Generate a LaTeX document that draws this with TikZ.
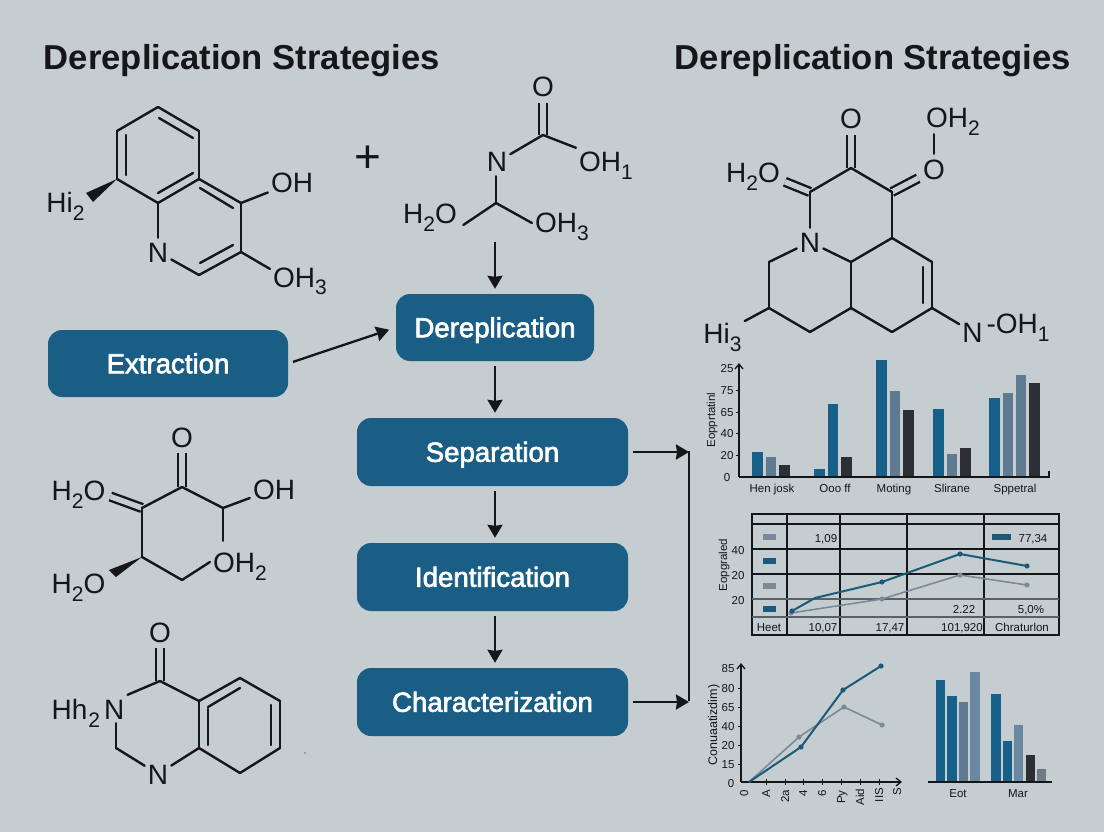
\documentclass[tikz,border=0pt]{standalone}
\usepackage{fontspec}
\setmainfont{Liberation Sans}
\newfontfamily\stagefont[FakeBold=2.4]{Liberation Sans}
\usetikzlibrary{arrows.meta}
\definecolor{panel}{HTML}{C5CDD0}
\definecolor{boxblue}{HTML}{1B5E85}
\definecolor{ink}{HTML}{141618}
\definecolor{barblue}{HTML}{17608A}
\definecolor{barslate}{HTML}{5F7B91}
\definecolor{barpale}{HTML}{6A88A2}
\definecolor{bardark}{HTML}{2C2F33}
\definecolor{bargrey}{HTML}{6E7B85}
\definecolor{seriesteal}{HTML}{1B5A78}
\definecolor{seriesgrey}{HTML}{7A8A96}
\definecolor{gridgrey}{HTML}{5A6166}
\tikzset{
  title/.style={font=\fontsize{34.6}{34.6}\bfseries\selectfont, text=ink, inner sep=0pt,
                text height=24pt, text depth=0pt},
  stage/.style={draw=none, fill=boxblue, rounded corners=14pt, text=white, inner sep=0pt,
                text height=19.5pt, text depth=0pt,
                font=\stagefont\fontsize{27.6}{27.6}\selectfont},
  flow/.style={draw=ink, line width=2.3pt, shorten <=5pt, shorten >=5pt,
               -{Stealth[length=13pt,width=15pt,inset=1pt]}},
  rail/.style={draw=ink, line width=2.5pt},
  % Atom labels: height fixed at the capitals, so a subscript does not shift the centre.
  atom/.style={font=\fontsize{28}{28}\selectfont, text=ink, text height=20pt, text depth=0pt,
               inner xsep=3pt, inner ysep=4pt},
  bond/.style={draw=ink, line width=2.4pt, line cap=round, line join=round},
  dbl/.style={draw=ink, line width=2.4pt, double=panel, double distance=5.5pt, shorten >=2pt},
  wedge/.style={fill=ink, draw=none},
  tick/.style={font=\fontsize{11.5}{11.5}\selectfont, text=ink, inner sep=0pt,
               text height=8.2pt, text depth=0pt},
  axis/.style={draw=ink, line width=1.3pt},
  grid/.style={draw=ink, line width=1.1pt},
  band/.style={draw=gridgrey, line width=1.3pt},
  serieslead/.style={draw=seriesteal, line width=2pt},
  seriesback/.style={draw=seriesgrey, line width=1.6pt},
}
\newcommand{\lowix}[1]{\raisebox{-8pt}{\fontsize{21}{21}\selectfont #1}}

\begin{document}
\begin{tikzpicture}[x=1pt,y=-1pt]
  \useasboundingbox (0,0) rectangle (1104,832);
  \fill[panel] (0,0) rectangle (1104,832);

  % --- titles ---------------------------------------------------------------
  \node[title] (titleleft) at (242,57.5) {Dereplication Strategies};
  \node[title] (titleright) at (873,57.5) {Dereplication Strategies};

  % --- process stages and flows ----------------------------------------------
  \node[stage, minimum width=198pt, minimum height=67pt] (derep) at (495,327.5) {Dereplication};
  \node[stage, minimum width=240pt, minimum height=67pt] (extract) at (168,363.5) {Extraction};
  \node[stage, minimum width=271pt, minimum height=68pt] (sep) at (492.5,452) {Separation};
  \node[stage, minimum width=271pt, minimum height=68pt] (ident) at (492.5,577) {Identification};
  \node[stage, minimum width=271pt, minimum height=68pt] (charac) at (492.5,702) {Characterization};
  \coordinate (feed) at (495,237);
  \coordinate (railtop) at (689,452);
  \coordinate (railbottom) at (689,702);
  \draw[flow] (feed) -- (derep.north);
  \draw[flow, shorten >=7pt] (extract.east) -- (derep.west);
  \draw[flow] (derep.south) -- (derep.south |- sep.north);
  \draw[flow] (derep.south |- sep.south) -- (derep.south |- ident.north);
  \draw[flow] (derep.south |- ident.south) -- (derep.south |- charac.north);
  \draw[rail] (railtop) ++(0,-1) -- ([yshift=1pt]railbottom);
  \draw[flow, shorten >=0pt] (sep.east) -- (railtop);
  \draw[flow, shorten >=0pt] (charac.east) -- (railbottom);

  % --- molecule top left -----------------------------------------------------
  \foreach \n/\x/\y in {a/158/107,b/199/131,c/199/179,d/158/203,e/117/179,f/117/131,g/241/203,h/241/252,i/199/275}
    \coordinate (m1\n) at (\x,\y);
  \node[atom] (m1n) at (158,252) {N};
  \node[atom] (m1oh) at (292,183) {OH};
  \node[atom] (m1oht) at (300,277) {OH\lowix{3}};
  \node[atom] (m1hi) at (65.5,202) {Hi\lowix{2}};
  \foreach \a/\b in {a/b,b/c,c/d,d/e,e/f,f/a,c/g,g/h,h/i}
    \draw[bond] (m1\a) -- (m1\b);
  \draw[bond] (m1d) -- (m1n);
  \draw[bond] (m1i) -- (m1n);
  \draw[bond] (m1g) -- (m1oh);
  \draw[bond] (m1h) -- (m1oht.165);
  \draw[bond] (126,135) -- (126,175);
  \draw[bond] (159,118) -- (193,138);
  \draw[bond] (158,193) -- (193,173);
  \draw[bond] (200,188) -- (233,208);
  \draw[bond] (200,263) -- (233,245);
  \fill[wedge] (m1e) -- (86,193) -- (93,202) -- cycle;

  % --- molecule top middle ---------------------------------------------------
  \node[atom, font=\fontsize{46}{46}\selectfont, text height=27pt] (plus) at (368,159) {+};
  \coordinate (m2c) at (543,135);
  \coordinate (m2d) at (496,203);
  \node[atom] (m2o) at (543,87) {O};
  \node[atom] (m2n) at (497,162) {N};
  \node[atom] (m2oho) at (606,162) {OH\lowix{1}};
  \node[atom] (m2hto) at (430,213) {H\lowix{2}O};
  \node[atom] (m2oht) at (562,223) {OH\lowix{3}};
  \draw[dbl] (m2c) -- (m2o);
  \draw[bond] (m2c) -- (m2n);
  \draw[bond] (m2c) -- (m2oho.north west);
  \draw[bond] (m2d |- m2n.south) -- (m2d);
  \draw[bond, shorten >=4pt] (m2d) -- (m2hto.south east);
  \draw[bond] (m2d) -- (m2oht.west);

  % --- molecule top right ----------------------------------------------------
  \foreach \n/\x/\y in {a/851/168,b/810/192,c/892/192,d/892/238,e/851/262,f/932/262,g/932/308,h/892/332,i/851/308,j/810/332,k/769/308,l/769/262}
    \coordinate (m3\n) at (\x,\y);
  \node[atom] (m3o) at (851,119) {O};
  \node[atom] (m3hto) at (753,173) {H\lowix{2}O};
  \node[atom] (m3ox) at (934,170) {O};
  \node[atom] (m3oh) at (953,118) {OH\lowix{2}};
  \node[atom] (m3n) at (810,242) {N};
  \node[atom] (m3hi) at (722.5,333) {Hi\lowix{3}};
  \node[atom] (m3nn) at (972.5,332) {N};
  \node[atom] (m3ohn) at (1018,323) {-OH\lowix{1}};
  \draw[dbl] (m3a) -- (m3o);
  \draw[dbl] (m3b) -- (m3hto.-15);
  \draw[dbl] (m3c) -- (m3ox);
  \foreach \a/\b in {a/b,a/c,c/d,d/e,d/f,f/g,g/h,h/i,i/e,i/j,j/k,k/l}
    \draw[bond] (m3\a) -- (m3\b);
  \draw[bond] (m3b) -- (m3n);
  \draw[bond] (m3e) -- (m3n);
  \draw[bond] (m3l) -- (m3n);
  \draw[bond] (m3k) -- (m3hi);
  \draw[bond] (m3g) -- (m3nn);
  \draw[bond, shorten <=2pt, shorten >=2pt] (m3ox.north) -- (m3ox.north |- m3oh.south);
  \draw[bond] (923,267) -- (923,303);

  % --- molecule middle left --------------------------------------------------
  \foreach \n/\x/\y in {a/182/487,b/142/508,c/223/508,d/142/557,e/182/580}
    \coordinate (m4\n) at (\x,\y);
  \node[atom] (m4o) at (182,437) {O};
  \node[atom] (m4hto) at (78.5,490) {H\lowix{2}O};
  \node[atom] (m4oh) at (274,489) {OH};
  \node[atom] (m4oht) at (240,562) {OH\lowix{2}};
  \node[atom] (m4hlo) at (78.5,583) {H\lowix{2}O};
  \draw[dbl] (m4a) -- (m4o);
  \draw[dbl] (m4b) -- (m4hto.-11);
  \foreach \a/\b in {a/b,a/c,b/d,d/e}
    \draw[bond] (m4\a) -- (m4\b);
  \draw[bond] (m4c) -- (m4oh);
  \draw[bond, shorten >=7pt] (m4c) -- (m4c |- m4oht.north);
  \draw[bond] (m4e) -- (m4oht.west);
  \fill[wedge] (m4d) -- (109,570) -- (116,577) -- cycle;

  % --- molecule bottom left --------------------------------------------------
  \foreach \n/\x/\y in {a/116/748,b/160/681,c/199/701,d/199/748,e/240/678,f/280/701,g/280/748,h/240/773}
    \coordinate (m5\n) at (\x,\y);
  \node[atom] (m5o) at (160,632) {O};
  \node[atom] (m5hn) at (88,709) {Hh\kern1pt\lowix{2}\kern4pt N};
  \node[atom] (m5n) at (158,774) {N};
  \draw[dbl] (m5b) -- (m5o);
  \foreach \a/\b in {b/c,c/d,c/e,e/f,f/g,g/h,h/d}
    \draw[bond] (m5\a) -- (m5\b);
  \draw[bond] (m5b) -- (m5hn.north east);
  \draw[bond] (m5a |- m5hn.south) -- (m5a);
  \draw[bond] (m5a) -- (m5n);
  \draw[bond] (m5d) -- (m5n);
  \draw[bond] (208,707) -- (240,688);
  \draw[bond] (208,709) -- (208,745);
  \draw[bond] (271,705) -- (271,745);
  \fill[ink] (305,753) circle (0.7);

  % --- bar chart, top ---------------------------------------------------------
  \foreach \xa/\xb/\ytop/\col in {
      752.3/763/451.7/barblue, 765.7/776.3/457.3/barslate, 779/790/465.3/bardark,
      814.3/824.7/469/barblue, 827.7/838.3/404.3/barblue, 841/851.7/457.3/bardark,
      876.3/887/360/barblue, 890/900/391/barslate, 903.3/914/410/bardark,
      933.3/944/409/barblue, 947/957.3/454/barslate, 960.3/971/448/bardark,
      989.3/1000/398/barblue, 1002.7/1013.3/393/barslate, 1016/1026.3/375.3/barslate, 1029.3/1040/382.7/bardark}
    \fill[\col] (\xa,\ytop) rectangle (\xb,477);
  \coordinate (baro) at (739,477);
  \draw[axis, -{Straight Barb[length=5pt,width=8pt]}] (baro) -- (739,363);
  \draw[axis] (baro) -- (1049,477) -- (1049,471);
  \foreach \yy in {390,412,433,455} \draw[axis, line width=1pt] (735.5,\yy) -- (739,\yy);
  \foreach \lab/\yy [count=\i] in {25/368,75/390,65/412,40/433,20/455,0/477}
    \node[tick] (bary\i) at (727,\yy) {\lab};
  \foreach \lab/\xx [count=\i] in {Hen josk/772,Ooo ff/835,Moting/894,Slirane/952,Sppetral/1015}
    \node[tick] (barx\i) at (\xx,488) {\lab};
  \node[tick, rotate=90] (bartitle) at (711,420) {Eopprtatinl};

  % --- table with line series ------------------------------------------------
  \draw[grid] (752,514) rectangle (1059,635);
  \foreach \xx in {787,840,907,984} \draw[grid] (\xx,514) -- (\xx,635);
  \foreach \yy in {524,549,574} \draw[grid] (752,\yy) -- (1059,\yy);
  \foreach \yy in {599,617} \draw[band] (752,\yy) -- (1059,\yy);
  \foreach \yy/\col in {537/seriesgrey,561/seriesteal,586/seriesgrey,609/seriesteal}
    \fill[\col] (763,\yy-2.8) rectangle (776,\yy+2.8);
  \fill[seriesteal] (992,534.2) rectangle (1011,539.8);
  \draw[seriesback] (791,613) -- (882,599) -- (960,575) -- (1027,585);
  \draw[serieslead] (792,611) -- (815,598) -- (882,582) -- (960,554) -- (1027,566);
  \foreach \p in {(791,613),(882,599),(960,575),(1027,585)} \fill[seriesgrey] \p circle (2.6);
  \foreach \p in {(792,611),(882,582),(960,554),(1027,566)} \fill[seriesteal] \p circle (2.6);
  \foreach \lab/\xx/\yy [count=\i] in {{1,09}/826/538,{77,34}/1033/538,2.22/964/609,{5,0\%}/1031/609,
      Heet/769/627,{10,07}/823/627,{17,47}/890/627,{101,920}/962/627,Chraturlon/1022/627}
    \node[tick] (cell\i) at (\xx,\yy) {\lab};
  \foreach \lab/\yy [count=\i] in {40/550,20/575,20/600}
    \node[tick] (taby\i) at (738,\yy) {\lab};
  \node[tick, rotate=90] (tabtitle) at (723,565) {Eopgraled};

  % --- line chart, bottom -----------------------------------------------------
  \coordinate (lino) at (741,782);
  \draw[axis, -{Straight Barb[length=5pt,width=8pt]}] (lino) -- (741,663);
  \draw[axis, -{Straight Barb[length=5pt,width=8pt]}] (lino) -- (902,782);
  \foreach \xx in {766,785,803,822,841,860,879} \draw[axis, line width=1pt] (\xx,779) -- (\xx,785);
  \foreach \yy in {688,707,726,745,764} \draw[axis, line width=1pt] (738,\yy) -- (741,\yy);
  \draw[seriesback] (749,782) -- (799,737) -- (844,707) -- (882,725);
  \draw[serieslead] (749,782) -- (801,747) -- (843,690) -- (881,666);
  \foreach \p in {(799,737),(844,707),(882,725)} \fill[seriesgrey] \p circle (2.6);
  \foreach \p in {(801,747),(843,690),(881,666)} \fill[seriesteal] \p circle (2.6);
  \foreach \lab/\xx/\yy [count=\i] in {85/728/668,80/728/688,65/728/707,40/728/726,20/728/745,15/728/764,0/731/783}
    \node[tick] (liny\i) at (\xx,\yy) {\lab};
  \foreach \lab/\xx/\yy [count=\i] in {0/744/793,A/766/794,2a/785/796,4/803/793,6/822/793,Py/841/797,Aid/860/797,IIS/879/795,S/897/792}
    \node[tick, rotate=90] (linx\i) at (\xx,\yy) {\lab};
  \node[tick, rotate=90, font=\fontsize{12.5}{12.5}\selectfont] (lintitle) at (713,725) {Conuaatizdim)};

  % --- bar chart, bottom right -------------------------------------------------
  \foreach \xa/\xb/\ytop/\col in {
      936/945/680/barblue, 947.3/956.7/696/barblue, 959/968/702.3/barslate, 970.3/980/671.7/barpale,
      991.3/1000.7/693.7/barblue, 1002.7/1012/740.7/barblue, 1014/1023.3/725/barpale,
      1025.7/1035/755/bardark, 1037/1046/768.7/bargrey}
    \fill[\col] (\xa,\ytop) rectangle (\xb,782);
  \coordinate (baseleft) at (928,782);
  \coordinate (baseright) at (1052,782);
  \draw[axis] (baseleft) -- (baseright);
  \node[tick] (eot) at (958,793) {Eot};
  \node[tick] (mar) at (1018,793) {Mar};
\end{tikzpicture}
\end{document}
